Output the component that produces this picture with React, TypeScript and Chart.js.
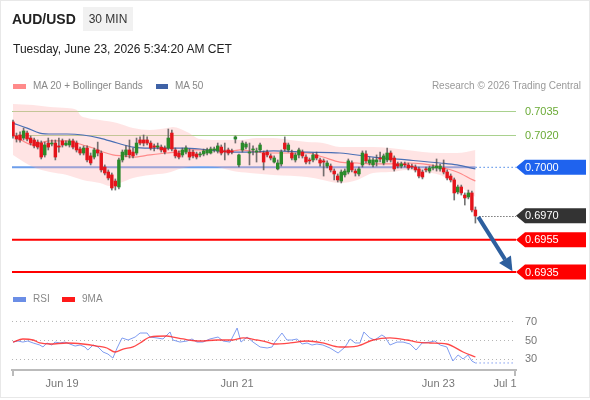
import React, { useEffect, useRef } from "react";
import { Chart, registerables } from "chart.js";

Chart.register(...registerables);

const FONT = "'Liberation Sans', Arial, Helvetica, sans-serif";

// [open, high, low, close] per 30-minute bar
const ohlc: [number, number, number, number][] = [
  [0.70282, 0.70294, 0.70182, 0.70195],
  [0.70195, 0.70213, 0.70157, 0.70176],
  [0.70201, 0.7022, 0.70157, 0.7017],
  [0.70182, 0.70244, 0.7017, 0.70226],
  [0.70213, 0.70226, 0.70164, 0.70176],
  [0.70182, 0.70195, 0.70139, 0.70151],
  [0.7017, 0.70182, 0.7012, 0.70133],
  [0.70157, 0.7017, 0.70114, 0.70126],
  [0.70151, 0.70164, 0.70052, 0.70064],
  [0.70077, 0.70157, 0.70064, 0.70139],
  [0.70151, 0.70182, 0.70108, 0.70126],
  [0.70145, 0.7017, 0.70133, 0.70151],
  [0.70151, 0.7017, 0.70046, 0.70064],
  [0.70133, 0.70182, 0.70095, 0.70126],
  [0.70164, 0.70176, 0.70126, 0.70139],
  [0.70139, 0.70164, 0.70133, 0.70151],
  [0.70139, 0.70176, 0.70126, 0.70164],
  [0.70164, 0.70176, 0.70114, 0.70126],
  [0.70151, 0.70164, 0.70095, 0.70108],
  [0.70114, 0.70126, 0.70077, 0.70089],
  [0.70089, 0.70133, 0.70077, 0.7012],
  [0.7012, 0.70133, 0.70033, 0.70046],
  [0.70071, 0.70089, 0.70015, 0.70027],
  [0.70064, 0.7012, 0.70052, 0.70108],
  [0.70108, 0.70157, 0.70071, 0.70089],
  [0.70089, 0.70102, 0.69971, 0.69984],
  [0.70002, 0.70015, 0.69953, 0.69965],
  [0.69971, 0.69984, 0.69922, 0.69934],
  [0.69953, 0.69965, 0.69859, 0.69872],
  [0.69915, 0.69928, 0.69859, 0.69884],
  [0.69878, 0.70058, 0.69866, 0.70046],
  [0.70046, 0.70108, 0.70033, 0.70095],
  [0.70077, 0.70133, 0.70064, 0.70108],
  [0.70108, 0.7017, 0.70058, 0.70077],
  [0.70095, 0.7012, 0.70058, 0.70071],
  [0.70089, 0.70182, 0.70077, 0.70151],
  [0.7017, 0.70189, 0.70139, 0.70151],
  [0.7017, 0.70201, 0.70133, 0.70151],
  [0.7017, 0.70189, 0.70139, 0.70151],
  [0.70151, 0.70164, 0.70108, 0.7012],
  [0.70133, 0.70145, 0.70102, 0.70126],
  [0.70126, 0.70151, 0.70114, 0.70133],
  [0.70126, 0.70139, 0.70095, 0.70108],
  [0.7012, 0.70133, 0.70083, 0.70095],
  [0.7012, 0.70238, 0.70108, 0.70182],
  [0.70213, 0.70232, 0.70102, 0.70114],
  [0.70108, 0.7012, 0.70058, 0.70071],
  [0.70089, 0.70102, 0.70052, 0.70064],
  [0.70077, 0.7012, 0.70064, 0.70108],
  [0.70095, 0.70133, 0.70083, 0.7012],
  [0.70095, 0.70114, 0.70046, 0.70064],
  [0.70095, 0.70108, 0.70058, 0.70071],
  [0.70083, 0.70095, 0.70052, 0.70064],
  [0.70077, 0.70095, 0.70064, 0.70083],
  [0.70083, 0.70114, 0.70071, 0.70102],
  [0.70089, 0.7012, 0.70077, 0.70108],
  [0.70089, 0.70126, 0.70083, 0.70114],
  [0.70108, 0.70126, 0.70095, 0.70114],
  [0.70102, 0.70151, 0.70089, 0.70133],
  [0.70126, 0.70139, 0.70077, 0.70089],
  [0.70102, 0.70151, 0.70046, 0.70095],
  [0.70108, 0.7012, 0.70077, 0.70089],
  [0.70102, 0.70114, 0.70083, 0.70095],
  [0.70176, 0.70195, 0.70151, 0.70189],
  [0.70015, 0.70083, 0.70002, 0.70077],
  [0.70108, 0.70164, 0.70095, 0.70151],
  [0.70126, 0.70157, 0.70114, 0.70145],
  [0.70089, 0.70151, 0.70015, 0.70095],
  [0.70108, 0.70133, 0.70077, 0.70114],
  [0.70095, 0.7012, 0.70033, 0.70102],
  [0.70108, 0.70151, 0.70095, 0.70139],
  [0.70089, 0.70102, 0.69984, 0.70033],
  [0.70095, 0.70108, 0.70064, 0.70077],
  [0.70071, 0.70083, 0.70046, 0.70058],
  [0.70033, 0.70071, 0.70027, 0.70058],
  [0.6999, 0.70046, 0.69984, 0.70027],
  [0.70021, 0.70108, 0.70008, 0.70095],
  [0.70151, 0.70189, 0.70102, 0.70114],
  [0.70108, 0.70151, 0.70095, 0.70139],
  [0.70089, 0.70108, 0.70046, 0.70058],
  [0.70046, 0.70089, 0.70033, 0.70077],
  [0.70077, 0.7012, 0.70058, 0.70108],
  [0.70095, 0.70108, 0.70058, 0.70071],
  [0.70064, 0.70077, 0.70021, 0.70033],
  [0.70046, 0.70058, 0.70021, 0.7004],
  [0.70046, 0.70089, 0.70033, 0.70077],
  [0.70077, 0.70095, 0.70046, 0.70058],
  [0.70046, 0.70058, 0.70008, 0.70027],
  [0.7004, 0.70052, 0.69946, 0.70033],
  [0.70008, 0.7004, 0.69996, 0.70027],
  [0.70008, 0.70021, 0.69971, 0.69984],
  [0.69977, 0.6999, 0.69922, 0.69959],
  [0.69946, 0.69959, 0.69909, 0.69922],
  [0.69915, 0.69984, 0.69903, 0.69971],
  [0.69953, 0.6999, 0.6994, 0.69977],
  [0.69971, 0.70052, 0.69959, 0.7004],
  [0.70027, 0.7004, 0.69971, 0.69984],
  [0.69977, 0.6999, 0.69946, 0.69965],
  [0.69959, 0.70002, 0.69946, 0.6999],
  [0.70015, 0.70102, 0.70002, 0.70089],
  [0.70083, 0.70102, 0.70027, 0.7004],
  [0.70027, 0.70064, 0.70015, 0.70046],
  [0.70015, 0.70058, 0.70002, 0.70046],
  [0.70033, 0.70077, 0.70008, 0.70046],
  [0.70058, 0.70095, 0.70033, 0.70052],
  [0.70027, 0.70083, 0.70015, 0.70071],
  [0.70046, 0.7012, 0.70033, 0.70089],
  [0.70089, 0.70102, 0.70033, 0.70046],
  [0.70058, 0.70071, 0.69977, 0.6999],
  [0.70021, 0.70033, 0.69996, 0.70008],
  [0.70008, 0.70033, 0.69996, 0.70021],
  [0.70021, 0.70033, 0.70002, 0.70015],
  [0.70015, 0.70027, 0.69984, 0.69996],
  [0.70008, 0.70021, 0.6999, 0.70002],
  [0.70002, 0.70015, 0.69971, 0.69984],
  [0.6999, 0.70002, 0.69934, 0.69946],
  [0.69971, 0.69984, 0.69928, 0.6994],
  [0.6999, 0.70002, 0.69971, 0.69984],
  [0.69977, 0.70008, 0.69965, 0.69996],
  [0.69996, 0.70015, 0.69984, 0.70002],
  [0.69996, 0.70052, 0.69977, 0.70008],
  [0.6999, 0.70021, 0.69977, 0.70008],
  [0.69996, 0.70046, 0.69959, 0.69971],
  [0.69971, 0.69984, 0.69922, 0.69934],
  [0.69946, 0.69959, 0.69909, 0.69922],
  [0.69922, 0.69934, 0.69797, 0.69841],
  [0.69847, 0.6989, 0.69835, 0.69878],
  [0.69878, 0.6989, 0.69828, 0.69841],
  [0.69828, 0.69841, 0.69766, 0.6981],
  [0.69816, 0.69859, 0.69804, 0.69841],
  [0.69841, 0.69853, 0.69723, 0.69735],
  [0.69735, 0.69754, 0.69654, 0.69698],
];

// [bar index, value]
const ma20: [number, number][] = [
  [0, 0.70201], [5.7, 0.70139], [8.5, 0.70157], [10.5, 0.70164], [15.3, 0.70164],
  [17, 0.70157], [19.8, 0.70139], [22.7, 0.7012], [25.5, 0.70095], [28.3, 0.70077],
  [31.2, 0.70071], [34, 0.70064], [38.8, 0.70077], [43.6, 0.70089], [46.5, 0.70095],
  [49.3, 0.70108], [53, 0.70108], [57.8, 0.70108], [62.3, 0.70102], [64.3, 0.70108],
  [69.1, 0.70095], [73.7, 0.70089], [78.5, 0.70089], [83.3, 0.70089], [87.8, 0.70064],
  [92.6, 0.70033], [97.5, 0.70027], [102, 0.70021], [106.8, 0.70021], [111.6, 0.70027],
  [116.1, 0.70021], [121, 0.70002], [125.8, 0.69971], [130.3, 0.69922], [131, 0.69915],
];

const ma50: [number, number][] = [
  [0, 0.70275], [4, 0.70244], [7.6, 0.70213], [11.3, 0.70207], [15.3, 0.70207],
  [19.8, 0.70201], [24.6, 0.70182], [29.5, 0.70151], [34, 0.70126], [38.8, 0.7012],
  [43.6, 0.7012], [48.2, 0.7012], [53, 0.70114], [57.8, 0.70102], [62.3, 0.70095],
  [67.1, 0.70095], [73.7, 0.70102], [83.3, 0.70095], [92.6, 0.70089], [102, 0.70064],
  [111.6, 0.70046], [121, 0.70027], [125.8, 0.70015], [131, 0.6999],
];

const bbUpper: [number, number][] = [
  [0, 0.70393], [5.7, 0.70387], [10.5, 0.70375], [15.3, 0.70369], [18.1, 0.70356],
  [19, 0.70325], [21, 0.70306], [24.6, 0.70294], [29.5, 0.70275], [34, 0.70244],
  [38.8, 0.70232], [43.6, 0.70244], [45.3, 0.70251], [49.3, 0.7022], [53, 0.70176],
  [57.8, 0.7017], [64.3, 0.7017], [69.1, 0.70182], [73.7, 0.70182], [78.5, 0.7017],
  [83.3, 0.70157], [87.8, 0.70151], [92.6, 0.70126], [102, 0.70126], [106.8, 0.7012],
  [111.6, 0.70108], [116.1, 0.70095], [121, 0.70089], [125.8, 0.70089], [131, 0.70108],
];

const bbLower: [number, number][] = [
  [0, 0.70077], [5.7, 0.70002], [10.5, 0.69971], [15.3, 0.69953], [19.8, 0.69922],
  [24.6, 0.69903], [27.5, 0.69884], [30.3, 0.69903], [34, 0.69934], [38.8, 0.69953],
  [43.6, 0.69965], [48.2, 0.69996], [53, 0.70008], [57.8, 0.70002], [62.3, 0.69977],
  [67.1, 0.69965], [73.7, 0.69953], [83.3, 0.6994], [87.8, 0.69922], [92.6, 0.69903],
  [97.5, 0.69922], [102, 0.69965], [106.8, 0.69971], [111.6, 0.69984], [116.1, 0.69971],
  [121, 0.69953], [125.8, 0.6989], [131, 0.69816],
];

const rsi: [number, number][] = [
  [0, 47.8], [1.4, 48.9], [2.8, 47.8], [4.2, 48.9], [5.7, 46.8], [7.6, 44.6], [8.5, 42.5],
  [9.6, 46.8], [11, 44.6], [11.9, 47.8], [13.3, 46.8], [14.7, 47.8], [16.1, 45.7], [17.6, 43.5],
  [19, 44.6], [20.4, 42.5], [21.2, 39.2], [22.7, 44.6], [24.1, 42.5], [25.5, 37.1], [26.9, 34.9],
  [28.3, 30.6], [29.5, 41.4], [30.9, 52.2], [32.6, 50], [34.6, 53.2], [36, 57.5], [38, 57.5],
  [38.8, 53.2], [40.8, 52.2], [42.5, 51.1], [44.5, 58.6], [45.3, 50], [47.3, 47.8], [49.3, 48.9],
  [50.7, 51.1], [52.1, 47.8], [53.8, 47.8], [55.8, 51.1], [58.1, 53.2], [59.5, 48.9], [61.5, 47.8],
  [63.5, 62.9], [64.6, 47.8], [66.3, 53.2], [68, 47.8], [70, 42.5], [72, 41.4], [73.4, 42.5],
  [74.2, 47.8], [76.2, 57.5], [77.6, 50], [79, 50], [80.5, 51.1], [81.9, 45.7], [83.3, 46.8],
  [84.7, 44.6], [86.1, 45.7], [87.8, 44.6], [89.8, 41.4], [92.1, 36], [94.1, 42.5], [95.5, 51.1],
  [96.9, 46.8], [98.3, 46.8], [99.4, 58.6], [101.1, 52.2], [102.5, 50], [104.5, 55.4], [105.4, 53.2],
  [106.8, 44.6], [108.8, 47.8], [110.5, 47.8], [112.5, 45.7], [114.2, 39.2], [115.9, 46.8],
  [118.1, 47.8], [119.5, 48.9], [121, 44.6], [122.9, 42.5], [124.6, 27.4], [126.1, 33.9],
  [127.5, 29.6], [128.9, 33.9], [130, 27.4], [131, 25.3],
];

const rsiMa: [number, number][] = [
  [0, 47.8], [2.8, 51.1], [5.7, 50], [7.6, 46.8], [10.5, 45.7], [15.3, 46.8], [19.8, 45.7],
  [23.8, 43.5], [26.6, 41.4], [28.9, 37.1], [31.2, 40.3], [34, 42.5], [36, 46.8], [38.8, 53.2],
  [43.6, 54.3], [45.3, 53.2], [48.2, 51.1], [53, 48.9], [57.8, 50], [62.3, 50], [65.2, 52.2],
  [69.1, 50], [72, 47.8], [73.7, 45.7], [78.5, 46.8], [83.3, 48.9], [87.8, 46.8], [92.6, 42.5],
  [97.5, 43.5], [102, 50], [106.8, 52.2], [111.6, 50], [114.4, 47.8], [118.1, 46.8],
  [122.9, 45.7], [127.5, 37.1], [131, 31.7],
];

const xTickPos = [13.9, 63.5, 120.5, 139.4];
const xTickLabels = ["Jun 19", "Jun 21", "Jun 23", "Jul 1"];
const resistLevels = [0.7035, 0.702];
const pivotLevel = 0.7;
const lastPrice = 0.697;
const supportLevels = [0.6955, 0.6935];
const rsiLevels = [70, 50, 30];
const arrowFrom: [number, number] = [131.8, 0.69692];
const arrowTo: [number, number] = [141.5, 0.69355];

const GREEN_LINE = "#a9d18e";
const GREEN_TEXT = "#6aaa35";
const BLUE_LINE = "#6d9eeb";
const BLUE_TAG = "#1f63ee";
const RED = "#ff0000";
const DARK_TAG = "#333333";

function tag(ctx: CanvasRenderingContext2D, x0: number, yp: number, color: string, text: string) {
  const h = 15, tip = 9, w = 70;
  ctx.fillStyle = color;
  ctx.beginPath();
  ctx.moveTo(x0, yp);
  ctx.lineTo(x0 + tip, yp - h / 2);
  ctx.lineTo(x0 + w, yp - h / 2);
  ctx.lineTo(x0 + w, yp + h / 2);
  ctx.lineTo(x0 + tip, yp + h / 2);
  ctx.closePath();
  ctx.fill();
  ctx.fillStyle = "#ffffff";
  ctx.font = `11px ${FONT}`;
  ctx.textBaseline = "middle";
  ctx.textAlign = "left";
  ctx.fillText(text, x0 + 9, yp + 0.5);
}

function hline(ctx: CanvasRenderingContext2D, x1: number, x2: number, y: number) {
  ctx.beginPath();
  ctx.moveTo(x1, y);
  ctx.lineTo(x2, y);
  ctx.stroke();
}

const overlayPlugin = {
  id: "overlay",
  beforeDatasetsDraw(chart: any) {
    const { ctx, chartArea } = chart;
    const { left, right } = chartArea;
    const x = chart.scales.x, y = chart.scales.y, yr = chart.scales.yr;
    ctx.save();
    ctx.strokeStyle = GREEN_LINE;
    ctx.lineWidth = 1;
    resistLevels.forEach((v) => hline(ctx, left, right, Math.round(y.getPixelForValue(v)) + 0.5));
    const lastX = x.getPixelForValue(ohlc.length - 1);
    const pp = y.getPixelForValue(pivotLevel);
    ctx.strokeStyle = BLUE_LINE;
    ctx.lineWidth = 2;
    hline(ctx, left, lastX, pp);
    ctx.lineWidth = 1.3;
    ctx.setLineDash([1.5, 2.5]);
    hline(ctx, lastX, right, pp);
    ctx.setLineDash([]);
    ctx.strokeStyle = RED;
    ctx.lineWidth = 2;
    supportLevels.forEach((v) => hline(ctx, left, right, y.getPixelForValue(v)));
    ctx.strokeStyle = "#b5b5b5";
    ctx.lineWidth = 1;
    ctx.setLineDash([1, 3]);
    rsiLevels.forEach((v) => hline(ctx, left, right, Math.round(yr.getPixelForValue(v)) + 0.5));
    ctx.setLineDash([]);
    ctx.restore();
  },
  afterDatasetsDraw(chart: any) {
    const { ctx, chartArea } = chart;
    const { left, right, bottom } = chartArea;
    const x = chart.scales.x, y = chart.scales.y, yr = chart.scales.yr;
    ctx.save();
    const lastX = x.getPixelForValue(ohlc.length - 1);
    const lp = Math.round(y.getPixelForValue(lastPrice)) + 0.5;
    ctx.strokeStyle = "#333";
    ctx.lineWidth = 1;
    ctx.setLineDash([1, 2]);
    hline(ctx, lastX + 4, right, lp);
    const lastRsi = rsi[rsi.length - 1][1];
    ctx.strokeStyle = "#7f9cf0";
    ctx.setLineDash([1.5, 2.5]);
    hline(ctx, x.getPixelForValue(rsi[rsi.length - 1][0]), right - 3, yr.getPixelForValue(lastRsi));
    ctx.setLineDash([]);
    const ax1 = x.getPixelForValue(arrowFrom[0]), ay1 = y.getPixelForValue(arrowFrom[1]);
    const ax2 = x.getPixelForValue(arrowTo[0]), ay2 = y.getPixelForValue(arrowTo[1]);
    const ang = Math.atan2(ay2 - ay1, ax2 - ax1);
    const headLen = 14, headW = 7;
    const bx = ax2 - headLen * Math.cos(ang), by = ay2 - headLen * Math.sin(ang);
    ctx.strokeStyle = "#2d5f9e";
    ctx.fillStyle = "#2d5f9e";
    ctx.lineWidth = 4;
    ctx.beginPath();
    ctx.moveTo(ax1, ay1);
    ctx.lineTo(bx, by);
    ctx.stroke();
    ctx.beginPath();
    ctx.moveTo(ax2, ay2);
    ctx.lineTo(bx + headW * Math.sin(ang), by - headW * Math.cos(ang));
    ctx.lineTo(bx - headW * Math.sin(ang), by + headW * Math.cos(ang));
    ctx.closePath();
    ctx.fill();
    ctx.font = `11px ${FONT}`;
    ctx.textBaseline = "middle";
    ctx.textAlign = "left";
    ctx.fillStyle = GREEN_TEXT;
    resistLevels.forEach((v) => ctx.fillText(v.toFixed(4), right + 9, y.getPixelForValue(v) + 0.5));
    tag(ctx, right, y.getPixelForValue(pivotLevel), BLUE_TAG, pivotLevel.toFixed(4));
    tag(ctx, right, y.getPixelForValue(lastPrice), DARK_TAG, lastPrice.toFixed(4));
    supportLevels.forEach((v) => tag(ctx, right, y.getPixelForValue(v), RED, v.toFixed(4)));
    ctx.font = `11px ${FONT}`;
    ctx.fillStyle = "#777";
    rsiLevels.forEach((v) => ctx.fillText(String(v), right + 9, yr.getPixelForValue(v) + 0.5));
    ctx.strokeStyle = "#bbbbbb";
    ctx.lineWidth = 2;
    [left + 1, right - 1].forEach((px) => {
      ctx.beginPath();
      ctx.moveTo(px, bottom);
      ctx.lineTo(px, bottom + 6);
      ctx.stroke();
    });
    ctx.restore();
  },
};

const lbl: React.CSSProperties = {
  position: "absolute",
  fontFamily: FONT,
  whiteSpace: "nowrap",
  zIndex: 2,
};

export default function App() {
  const ref = useRef<HTMLCanvasElement | null>(null);

  useEffect(() => {
    if (!ref.current) return;
    const xy = (arr: [number, number][]) => arr.map(([a, b]) => ({ x: a, y: b }));
    const up = "#e4141b";
    const down = "#2a8a2a";
    const chart = new Chart(ref.current, {
      type: "bar",
      data: {
        datasets: [
          {
            type: "line",
            label: "RSI",
            data: xy(rsi),
            yAxisID: "yr",
            borderColor: "#7f9cf0",
            borderWidth: 1,
            pointRadius: 0,
            tension: 0,
            order: 1,
          } as any,
          {
            type: "line",
            label: "9MA",
            data: xy(rsiMa),
            yAxisID: "yr",
            borderColor: "rgba(255,40,40,0.85)",
            borderWidth: 1.3,
            pointRadius: 0,
            cubicInterpolationMode: "monotone",
            order: 0,
          } as any,
          {
            type: "bar",
            label: "body",
            data: ohlc.map((c, i) => ({ x: i, y: [c[0], c[3]] })),
            yAxisID: "y",
            backgroundColor: ohlc.map((c) => (c[3] >= c[0] ? down : up)),
            barThickness: 2.8,
            minBarLength: 1,
            grouped: false,
            borderWidth: 0,
            order: 2,
          } as any,
          {
            type: "bar",
            label: "wick",
            data: ohlc.map((c, i) => ({ x: i, y: [c[2], c[1]] })),
            yAxisID: "y",
            backgroundColor: "rgba(80,80,80,0.8)",
            barThickness: 1,
            grouped: false,
            borderWidth: 0,
            order: 3,
          } as any,
          {
            type: "line",
            label: "MA 50",
            data: xy(ma50),
            yAxisID: "y",
            borderColor: "#4a6fb5",
            borderWidth: 1.2,
            pointRadius: 0,
            cubicInterpolationMode: "monotone",
            order: 4,
          } as any,
          {
            type: "line",
            label: "MA 20",
            data: xy(ma20),
            yAxisID: "y",
            borderColor: "#ff8a8a",
            borderWidth: 1.2,
            pointRadius: 0,
            cubicInterpolationMode: "monotone",
            order: 5,
          } as any,
          {
            type: "line",
            label: "BB upper",
            data: xy(bbUpper),
            yAxisID: "y",
            borderWidth: 0,
            borderColor: "rgba(0,0,0,0)",
            backgroundColor: "rgba(255,170,170,0.32)",
            fill: "+1",
            pointRadius: 0,
            cubicInterpolationMode: "monotone",
            order: 6,
          } as any,
          {
            type: "line",
            label: "BB lower",
            data: xy(bbLower),
            yAxisID: "y",
            borderWidth: 0,
            borderColor: "rgba(0,0,0,0)",
            fill: false,
            pointRadius: 0,
            cubicInterpolationMode: "monotone",
            order: 7,
          } as any,
        ],
      },
      options: {
        responsive: false,
        animation: false,
        events: [],
        layout: { padding: { left: 12, right: 74, top: 92, bottom: 2 } },
        plugins: { legend: { display: false }, tooltip: { enabled: false } },
        scales: {
          x: {
            type: "linear",
            min: -0.28,
            max: 142.5,
            offset: false,
            grid: { display: false, drawTicks: false },
            border: { display: true, color: "#bbbbbb", width: 2 },
            afterBuildTicks: (s: any) => {
              s.ticks = xTickPos.map((v) => ({ value: v }));
            },
            afterFit: (s: any) => {
              s.height = 28;
            },
            ticks: {
              autoSkip: false,
              maxRotation: 0,
              padding: 7,
              color: "#777",
              font: { family: FONT, size: 11 },
              callback: (_v: any, i: number) => xTickLabels[i],
            },
          },
          y: {
            type: "linear",
            display: false,
            min: 0.687413,
            max: 0.70468,
          },
          yr: {
            type: "linear",
            display: false,
            min: 17.74,
            max: 316.7,
          },
        },
      } as any,
      plugins: [overlayPlugin],
    });
    return () => chart.destroy();
  }, []);

  return (
    <div style={{ position: "absolute", left: 0, top: 0, width: 590, height: 400, background: "#fff", overflow: "hidden" }}>
      <canvas ref={ref} width={590} height={400} style={{ position: "absolute", left: 0, top: 0, width: 590, height: 400 }} />
      <div
        style={{
          position: "absolute", left: 0, top: 0, width: 590, height: 398, boxSizing: "border-box",
          border: "1px solid #e8e8e8", pointerEvents: "none", zIndex: 3,
        }}
      />
      <div style={{ ...lbl, left: 12, top: 11, fontSize: 14, lineHeight: "16px", fontWeight: 700, color: "#222" }}>AUD/USD</div>
      <div
        style={{
          ...lbl, left: 83, top: 7, width: 50, height: 24, background: "#f1f1f1", fontSize: 12,
          lineHeight: "24px", textAlign: "center", color: "#333",
        }}
      >
        30 MIN
      </div>
      <div style={{ ...lbl, left: 13, top: 42, fontSize: 12, lineHeight: "14px", color: "#222" }}>
        Tuesday, June 23, 2026 5:34:20 AM CET
      </div>
      <div style={{ ...lbl, left: 13, top: 84, width: 13, height: 5, background: "#ff8a8a" }} />
      <div style={{ ...lbl, left: 33, top: 80, fontSize: 10, lineHeight: "12px", color: "#888" }}>MA 20 + Bollinger Bands</div>
      <div style={{ ...lbl, left: 156, top: 84, width: 12, height: 5, background: "#3f62a6" }} />
      <div style={{ ...lbl, left: 175, top: 80, fontSize: 10, lineHeight: "12px", color: "#888" }}>MA 50</div>
      <div style={{ ...lbl, right: 9, top: 80, fontSize: 10, lineHeight: "12px", color: "#999" }}>
        Research © 2026 Trading Central
      </div>
      <div style={{ ...lbl, left: 13, top: 297, width: 13, height: 5, background: "#6b8ee6" }} />
      <div style={{ ...lbl, left: 33, top: 293, fontSize: 10, lineHeight: "12px", color: "#888" }}>RSI</div>
      <div style={{ ...lbl, left: 62, top: 297, width: 13, height: 5, background: "#ff1a1a" }} />
      <div style={{ ...lbl, left: 82, top: 293, fontSize: 10, lineHeight: "12px", color: "#888" }}>9MA</div>
    </div>
  );
}
